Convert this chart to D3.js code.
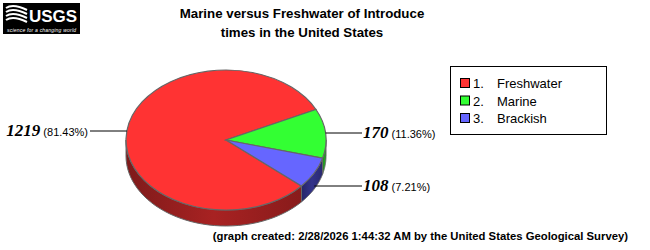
<!DOCTYPE html>
<html>
<head>
<meta charset="utf-8">
<script src="https://cdn.jsdelivr.net/npm/d3@7"></script>
<style>
  body { margin: 0; background: #fff; }
  svg { display: block; }
</style>
</head>
<body>
<div id="chart"></div>
<script>
const categories = ["Freshwater", "Marine", "Brackish"];
const counts = [1219, 170, 108];
const topColors = ["#ff3333", "#33ff33", "#6666ff"];
const sideColors = ["#a82222", "#22a822", "#33338a"];
const titleLines = ["Marine versus Freshwater of Introduce", "times in the United States"];
const footer = "(graph created: 2/28/2026 1:44:32 AM by the United States Geological Survey)";

const width = 650, height = 250;
const cx = 226, cy = 140, rx = 100, ry = 70, depth = 16;
const startAngle = 131 * Math.PI / 180; // d3 angle, clockwise from 12 o'clock

const svg = d3.select("#chart").append("svg")
  .attr("width", width).attr("height", height);

// logo
const logo = svg.append("g").attr("transform", "translate(3,3)");
logo.append("rect").attr("width", 77).attr("height", 31).attr("fill", "#000");
logo.append("text").attr("x", 26).attr("y", 19)
  .attr("font-family", "Liberation Sans, Arial, sans-serif").attr("font-weight", "bold")
  .attr("font-size", 17).attr("fill", "#fff").attr("textLength", 48).text("USGS");
[3, 7, 11, 15].forEach(d => {
  logo.append("path").attr("d", `M3,${d + 2} Q10,${d - 3} 24,${d + 4}`)
    .attr("stroke", "#fff").attr("stroke-width", 2).attr("fill", "none");
});
logo.append("text").attr("x", 4).attr("y", 28.5)
  .attr("font-family", "Liberation Sans, Arial, sans-serif").attr("font-style", "italic")
  .attr("font-size", 5).attr("fill", "#fff").attr("textLength", 69).text("science for a changing world");

// title
svg.selectAll("text.title").data(titleLines).enter().append("text")
  .attr("class", "title")
  .attr("x", 302).attr("y", (d, i) => 18 + i * 19)
  .attr("text-anchor", "middle")
  .attr("font-family", "Liberation Sans, Arial, sans-serif")
  .attr("font-weight", "bold").attr("font-size", 13.3)
  .text(d => d);

const data = categories.map((c, i) => ({ name: c, value: counts[i], idx: i }));
const total = d3.sum(counts);
const pie = d3.pie().sort(null).value(d => d.value)
  .startAngle(startAngle).endAngle(startAngle + 2 * Math.PI);
const arcs = pie(data);

// d3 angle -> point on ellipse
const pt = (a, dy = 0) => [cx + rx * Math.sin(a), cy - ry * Math.cos(a) + dy];

const defs = svg.append("defs");
sideColors.forEach((c, i) => {
  const g = defs.append("linearGradient").attr("id", "side" + i)
    .attr("x1", 0).attr("x2", 1).attr("y1", 0).attr("y2", 0);
  g.append("stop").attr("offset", "0%").attr("stop-color", d3.color(c).darker(0.8));
  g.append("stop").attr("offset", "50%").attr("stop-color", c);
  g.append("stop").attr("offset", "100%").attr("stop-color", d3.color(c).darker(0.6));
});

// side walls: visible where d3 angle is in [PI/2, 3PI/2] (front half)
const sides = svg.append("g");
arcs.forEach(d => {
  for (let k = -1; k <= 2; k++) {
    const lo = Math.max(d.startAngle, Math.PI / 2 + k * 2 * Math.PI);
    const hi = Math.min(d.endAngle, 3 * Math.PI / 2 + k * 2 * Math.PI);
    if (hi <= lo) continue;
    const steps = d3.range(0, 41).map(t => lo + (hi - lo) * t / 40);
    const top = steps.map(a => pt(a));
    const bot = steps.slice().reverse().map(a => pt(a, depth));
    sides.append("path")
      .attr("d", d3.line()(top.concat(bot)) + "Z")
      .attr("fill", `url(#side${d.data.idx})`)
      .attr("stroke", "#666").attr("stroke-width", 1);
  }
});

// top face
const arc = d3.arc().innerRadius(0).outerRadius(rx);
svg.append("g")
  .attr("transform", `translate(${cx},${cy}) scale(1,${ry / rx})`)
  .selectAll("path").data(arcs).enter().append("path")
  .attr("d", arc)
  .attr("fill", d => topColors[d.data.idx])
  .attr("stroke", "#666").attr("stroke-width", 1.2)
  .attr("vector-effect", "non-scaling-stroke");

// labels
const labels = svg.append("g");
arcs.forEach(d => {
  const mid = (d.startAngle + d.endAngle) / 2;
  const front = Math.cos(mid) < -0.4;
  const p = pt(mid, front ? depth * 0.8 : 0);
  p[1] = Math.round(p[1]);
  const left = Math.sin(mid) < 0;
  const lx = left ? 90 : 362;
  labels.append("line")
    .attr("x1", p[0]).attr("y1", p[1]).attr("x2", lx).attr("y2", p[1])
    .attr("stroke", "#000").attr("stroke-width", 1);
  const pct = (d.value / total * 100).toFixed(2);
  const t = labels.append("text")
    .attr("x", left ? lx - 2 : lx + 1).attr("y", p[1] + 5)
    .attr("text-anchor", left ? "end" : "start");
  t.append("tspan")
    .attr("font-family", "Liberation Serif, Times New Roman, serif")
    .attr("font-weight", "bold").attr("font-style", "italic").attr("font-size", 17)
    .text(d.value);
  t.append("tspan")
    .attr("font-family", "Liberation Sans, Arial, sans-serif").attr("font-size", 11)
    .text(` (${pct}%)`);
});

// legend
const legend = svg.append("g").attr("transform", "translate(450,66)");
legend.append("rect").attr("x", 0.5).attr("y", 0.5).attr("width", 156).attr("height", 68)
  .attr("fill", "#fff").attr("stroke", "#000");
const items = legend.selectAll("g.item").data(categories).enter().append("g")
  .attr("class", "item")
  .attr("transform", (d, i) => `translate(0,${17 + i * 17.5})`);
items.append("rect").attr("x", 10.5).attr("y", -4.5).attr("width", 9).attr("height", 9)
  .attr("fill", (d, i) => topColors[i]).attr("stroke", "#000");
items.append("text").attr("x", 23).attr("y", 5)
  .attr("font-family", "Liberation Sans, Arial, sans-serif").attr("font-size", 13)
  .text((d, i) => (i + 1) + ".");
items.append("text").attr("x", 47).attr("y", 5)
  .attr("font-family", "Liberation Sans, Arial, sans-serif").attr("font-size", 13)
  .text(d => d);

// footer
svg.append("text").attr("x", 628).attr("y", 240).attr("text-anchor", "end")
  .attr("font-family", "Liberation Sans, Arial, sans-serif")
  .attr("font-weight", "bold").attr("font-size", 11.3)
  .text(footer);
</script>
</body>
</html>
